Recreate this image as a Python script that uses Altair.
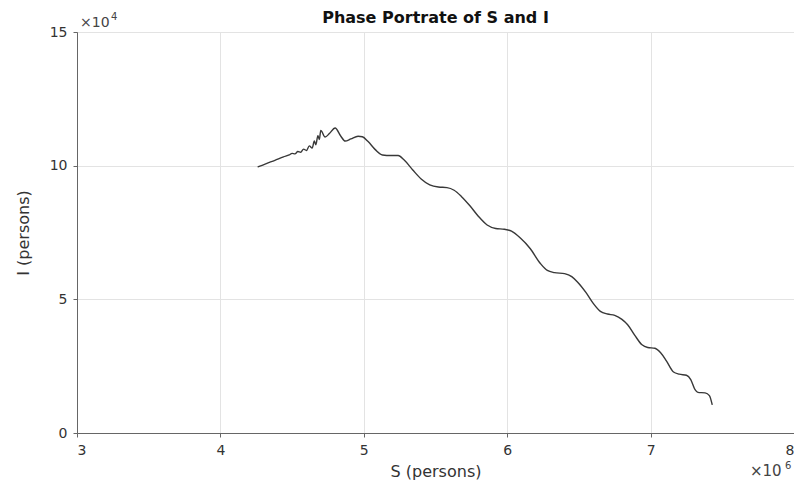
import altair as alt
import pandas as pd

# S in units of 1e6 persons, I in units of 1e4 persons
S = [4.26, 4.32, 4.38, 4.44, 4.48, 4.50, 4.52, 4.54, 4.56, 4.58, 4.60, 4.62,
     4.64, 4.655, 4.665, 4.68, 4.69, 4.70, 4.73, 4.76, 4.80, 4.84, 4.87, 4.91,
     4.96, 4.99, 5.03, 5.08, 5.13, 5.19, 5.24, 5.28, 5.34, 5.40, 5.46, 5.52,
     5.58, 5.63, 5.68, 5.74, 5.80, 5.86, 5.92, 5.98, 6.03, 6.09, 6.16, 6.23,
     6.28, 6.33, 6.40, 6.45, 6.49, 6.55, 6.60, 6.65, 6.70, 6.75, 6.80, 6.84,
     6.89, 6.94, 6.98, 7.03, 7.07, 7.11, 7.16, 7.20, 7.25, 7.28, 7.31, 7.33,
     7.38, 7.41, 7.43]
I = [9.95, 10.08, 10.20, 10.33, 10.40, 10.46, 10.44, 10.53, 10.50, 10.62, 10.57, 10.74,
     10.66, 10.92, 10.78, 11.12, 10.98, 11.32, 11.07, 11.20, 11.41, 11.10, 10.92, 11.00,
     11.10, 11.08, 10.90, 10.60, 10.40, 10.38, 10.38, 10.22, 9.85, 9.50, 9.28, 9.20,
     9.18, 9.08, 8.85, 8.50, 8.10, 7.78, 7.65, 7.62, 7.55, 7.30, 6.90, 6.35,
     6.08, 6.00, 5.96, 5.85, 5.65, 5.25, 4.85, 4.55, 4.45, 4.40, 4.25, 4.05,
     3.65, 3.30, 3.20, 3.17, 3.00, 2.70, 2.28, 2.20, 2.16, 2.00, 1.62, 1.52,
     1.50, 1.40, 1.05]

x_ticks = [3, 4, 5, 6, 7, 8]
y_ticks = [0, 5, 10, 15]
title_text = "Phase Portrate of S and I"

df = pd.DataFrame({"S": S, "I": I, "k": list(range(len(S)))})

FONT = "DejaVu Sans"
W, H = 717, 401

line = alt.Chart(df).mark_line(color="#383838", strokeWidth=1.4, interpolate="monotone").encode(
    x=alt.X("S:Q", scale=alt.Scale(domain=[3, 8], nice=False),
            axis=alt.Axis(values=x_ticks, title="S (persons)", format="d",
                          labelFontSize=14, titleFontSize=16, labelPadding=6,
                          titlePadding=6, titleFontWeight="normal")),
    y=alt.Y("I:Q", scale=alt.Scale(domain=[0, 15], nice=False),
            axis=alt.Axis(values=y_ticks, title="I (persons)", format="d",
                          labelFontSize=14, titleFontSize=16, labelPadding=6,
                          titlePadding=18, titleFontWeight="normal")),
    order="k:O",
)

base_txt = alt.Chart(pd.DataFrame({"a": [0]}))
title_mark = base_txt.mark_text(text=title_text, font=FONT, fontSize=16, fontWeight="bold",
                                color="#111", align="center", baseline="alphabetic").encode(
    x=alt.value(W / 2), y=alt.value(-9))
exp_y_main = base_txt.mark_text(text="×10", font=FONT, fontSize=14, color="#444", align="left", baseline="bottom").encode(
    x=alt.value(3), y=alt.value(-2))
exp_y_sup = base_txt.mark_text(text="4", font=FONT, fontSize=10, color="#444", align="left", baseline="bottom").encode(
    x=alt.value(34), y=alt.value(-10))
exp_x_main = base_txt.mark_text(text="×10", font=FONT, fontSize=15, color="#444", align="left", baseline="bottom").encode(
    x=alt.value(W - 44), y=alt.value(H + 46))
exp_x_sup = base_txt.mark_text(text="6", font=FONT, fontSize=10, color="#444", align="left", baseline="bottom").encode(
    x=alt.value(W - 9), y=alt.value(H + 38))

chart = alt.layer(line, title_mark, exp_y_main, exp_y_sup, exp_x_main, exp_x_sup).properties(
    width=W, height=H,
    autosize=alt.AutoSizeParams(type="none"),
    padding={"left": 69, "top": 24, "right": 0, "bottom": 47},
).configure_axis(
    labelFont=FONT, titleFont=FONT, labelColor="#333", titleColor="#333",
    gridColor="#e3e3e3", gridWidth=1, domainColor="#666", tickColor="#666",
    tickSize=4, domain=True,
).configure_view(stroke="#666", strokeWidth=1)

chart.save("out.html", embed_options={"renderer": "svg", "actions": False})
